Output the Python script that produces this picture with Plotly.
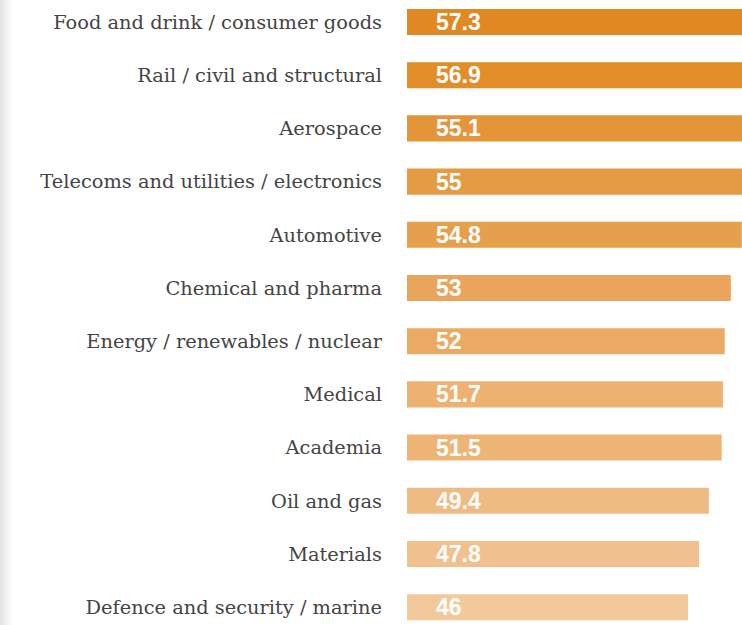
import plotly.graph_objects as go

categories = [
    "Food and drink / consumer goods",
    "Rail / civil and structural",
    "Aerospace",
    "Telecoms and utilities / electronics",
    "Automotive",
    "Chemical and pharma",
    "Energy / renewables / nuclear",
    "Medical",
    "Academia",
    "Oil and gas",
    "Materials",
    "Defence and security / marine",
]
values = [57.3, 56.9, 55.1, 55, 54.8, 53, 52, 51.7, 51.5, 49.4, 47.8, 46]
value_labels = ["57.3", "56.9", "55.1", "55", "54.8", "53", "52", "51.7", "51.5", "49.4", "47.8", "46"]
bar_colors = [
    "#E08822", "#E18D2A", "#E49539", "#E59B44", "#E69F4C", "#E9A55C",
    "#EAAA63", "#EDB272", "#EDB476", "#EFBB84", "#F0C18E", "#F2C99B",
]

W, H = 742, 625
L = 407
plot_w = W - L

fig = go.Figure(
    go.Bar(
        x=values,
        y=categories,
        orientation="h",
        width=0.49,
        marker=dict(color=bar_colors, line=dict(width=0)),
        hoverinfo="skip",
    )
)

annotations = []
for cat, lab in zip(categories, value_labels):
    annotations.append(dict(
        x=0, y=cat, xref="x", yref="y", text=lab, showarrow=False,
        xanchor="left", yanchor="middle", xshift=27,
        font=dict(family="Liberation Sans", size=23, color="white", weight="bold"),
    ))

# left page-edge shadow
shapes = []
for i in range(14):
    g = int(226 + (255 - 226) * (i / 13.0) ** 0.8)
    shapes.append(dict(
        type="rect", xref="paper", yref="paper",
        x0=(i - L) / plot_w, x1=(i + 1 - L) / plot_w, y0=0, y1=1,
        fillcolor=f"rgb({g},{g},{g})", line=dict(width=0), layer="below",
    ))

fig.update_layout(
    width=W, height=H,
    margin=dict(l=L, r=0, t=0, b=0, pad=0),
    paper_bgcolor="white", plot_bgcolor="white",
    showlegend=False,
    annotations=annotations,
    shapes=shapes,
    xaxis=dict(range=[0, plot_w / 6.11], visible=False, showgrid=False, zeroline=False),
    yaxis=dict(
        type="category",
        categoryorder="array", categoryarray=categories,
        range=[11.335, -0.4135],
        showgrid=False, zeroline=False, showline=False,
        ticks="", ticklabelstandoff=24,
        tickfont=dict(family="DejaVu Serif", size=19.4, color="#444444"),
    ),
)

fig.write_html(
    "out.html",
    config={"displayModeBar": False},
    post_script="document.body.style.margin='0';document.body.style.overflow='hidden';",
)
